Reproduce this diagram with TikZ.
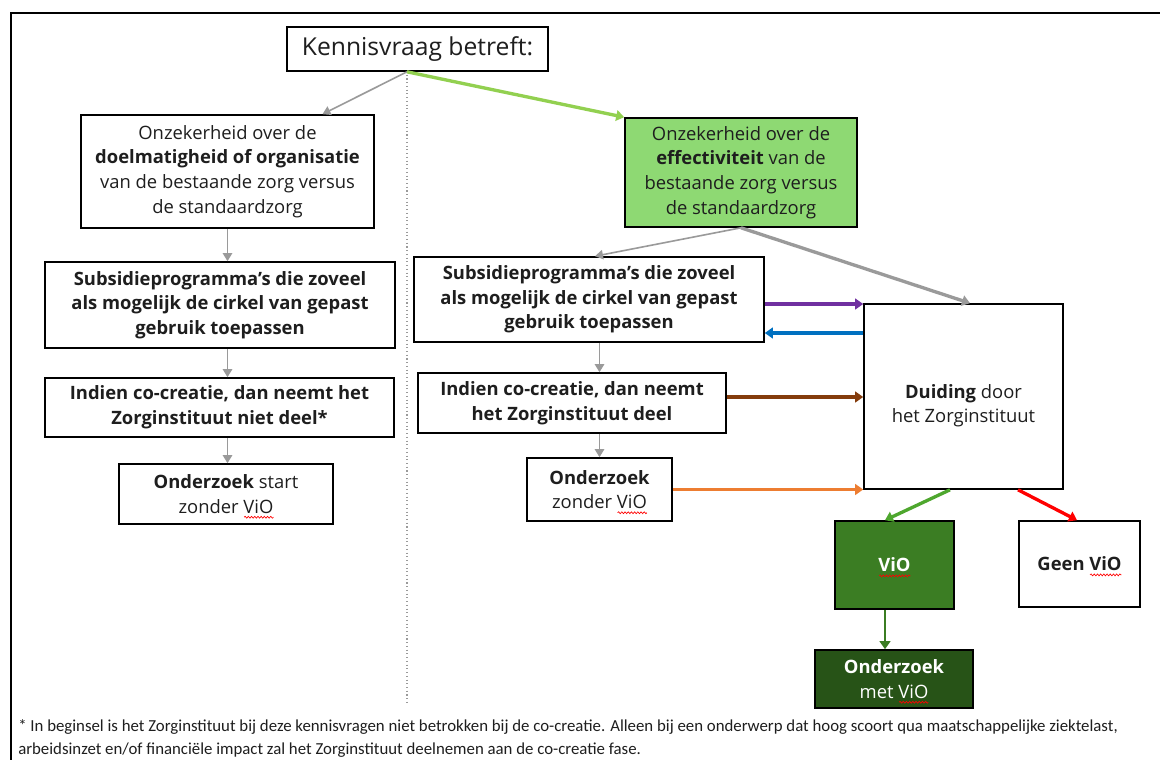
\documentclass[tikz,border=0pt]{standalone}
\usepackage{fontspec}
\setmainfont{Open Sans}
\newfontfamily\notefont{Carlito}
\usetikzlibrary{arrows.meta,calc,decorations.pathmorphing}
\newsavebox\wavebox
\newcommand\redwave[1]{\sbox\wavebox{#1}\rlap{\usebox\wavebox}\tikz[baseline=0pt,x=1pt,y=1pt]{\useasboundingbox (0pt,0pt) rectangle (\the\wd\wavebox,0pt);
  \draw[red, line width=0.5pt, decorate, decoration={snake,amplitude=0.7pt,segment length=2.4pt}] (0.5pt,-3pt) -- (\the\wd\wavebox,-3pt);}}
\definecolor{txt}{HTML}{1E1E1E}
\definecolor{lgreen}{HTML}{8ED973}
\definecolor{mgreen}{HTML}{3B7D23}
\definecolor{dgreen}{HTML}{275317}
\definecolor{agray}{HTML}{9A9A9A}
\definecolor{agreen}{HTML}{92D050}
\definecolor{apurple}{HTML}{7030A0}
\definecolor{ablue}{HTML}{0070C0}
\definecolor{abrown}{HTML}{843C0C}
\definecolor{aorange}{HTML}{ED7D31}
\definecolor{agreen2}{HTML}{4EA72E}
\tikzset{
  box/.style={draw=black, line width=1.2pt, inner sep=0pt, align=center, text=txt,
    font=\fontsize{13.8}{18.5}\selectfont},
  bbox/.style={box, font=\bfseries\fontsize{13.8}{18.5}\selectfont},
  thin arr/.style={draw=agray, line width=1.2pt, -{Triangle[width=7pt,length=6pt]}},
  thick arr/.style={line width=2.5pt, -{Triangle[width=8pt,length=6pt]}},
}
\begin{document}
\begin{tikzpicture}[x=0.75pt,y=-0.75pt]
\useasboundingbox (0,0) rectangle (1160,760);
\clip (0,0) rectangle (1160,760);
\fill[white] (0,0) rectangle (1160,760);
\draw[line width=2.2pt] (11,780) -- (11,13) -- (1180,13);

% dotted separator
\coordinate (dtop) at (407,71);
\coordinate (dbot) at (407,705);
\draw[agray, line width=0.8pt, dotted] (dtop) -- (dbot);

% nodes
\node[box, minimum width=195.75pt, minimum height=33pt, font=\fontsize{18.5}{20}\selectfont] (kv) at (417.5,49) {Kennisvraag betreft:};

\node[box, minimum width=219.75pt, minimum height=84.75pt] (l1) at (227.5,171.5)
  {Onzekerheid over de\\ \textbf{doelmatigheid of organisatie}\\ van de bestaande zorg versus\\ de standaardzorg};
\node[box, fill=lgreen, minimum width=174pt, minimum height=81.75pt] (g1) at (741,172.5)
  {Onzekerheid over de\\ \textbf{effectiviteit} van de\\ bestaande zorg versus\\ de standaardzorg};

\node[bbox, minimum width=262.5pt, minimum height=64.5pt] (l2) at (220,305)
  {Subsidieprogramma’s die zoveel\\ als mogelijk de cirkel van gepast\\ gebruik toepassen};
\node[bbox, minimum width=261.75pt, minimum height=44.25pt] (l3) at (219.5,407.5)
  {Indien co-creatie, dan neemt het\\ Zorginstituut niet deel*};
\node[box, minimum width=160.5pt, minimum height=45pt] (l4) at (226,494)
  {\textbf{Onderzoek} start\\ zonder \redwave{ViO}};

\node[bbox, minimum width=262.5pt, minimum height=63.75pt] (r2) at (589,299.5)
  {Subsidieprogramma’s die zoveel\\ als mogelijk de cirkel van gepast\\ gebruik toepassen};
\node[bbox, minimum width=231pt, minimum height=45pt] (r3) at (572,403)
  {Indien co-creatie, dan neemt\\ het Zorginstituut deel};
\node[box, minimum width=108.75pt, minimum height=47.25pt] (r4) at (599.5,489.5)
  {\textbf{Onderzoek}\\ zonder \redwave{ViO}};

\node[box, minimum width=149.25pt, minimum height=138.75pt] (du) at (963.5,396.5)
  {\raisebox{-7pt}[\height][\depth]{\parbox{140pt}{\centering\textbf{Duiding} door\\ het Zorginstituut}}};

\node[bbox, fill=mgreen, text=white, minimum width=89.25pt, minimum height=66pt] (vio) at (894.5,565)
  {\redwave{ViO}};
\node[bbox, minimum width=90.75pt, minimum height=64.5pt] (gv) at (1079.5,564)
  {Geen \redwave{ViO}};
\node[box, fill=dgreen, text=white, minimum width=118.5pt, minimum height=43.5pt] (om) at (894,679)
  {\textbf{Onderzoek}\\ met \redwave{ViO}};

% footnote
\node[anchor=north west, inner sep=0pt, align=left, text=txt, font=\notefont\fontsize{12.6}{17.5}\selectfont] (fn) at (18,719)
  {* In beginsel is het Zorginstituut bij deze kennisvragen niet betrokken bij de co-creatie. Alleen bij een onderwerp dat hoog scoort qua maatschappelijke ziektelast,\\
   arbeidsinzet en/of financiële impact zal het Zorginstituut deelnemen aan de co-creatie fase.};

% connectors
\draw[thin arr] ($(kv.south)+(-10.5,0)$) -- ($(l1.north)+(95,0)$);
\draw[thick arr, agreen] ($(kv.south)+(-10.5,0)$) -- (g1.north west);

\draw[thin arr] (l1.south) -- (l1.south |- l2.north);
\draw[thin arr] (l2.south -| l1.south) -- (l3.north -| l1.south);
\draw[thin arr] (l3.south -| l1.south) -- (l4.north -| l1.south);

\draw[thin arr] (g1.south) -- ($(r2.north)+(6,0)$);
\draw[thick arr, agray] (g1.south) -- ($(du.north)+(6.5,0)$);

\coordinate (pp) at ($(r2.east)+(0,4.5)$);
\coordinate (pb) at ($(r2.east)+(0,33.5)$);
\coordinate (pr) at ($(r3.east)+(0,-6)$);
\draw[thick arr, apurple] (pp) -- (pp -| du.west);
\draw[thick arr, ablue] (pb -| du.west) -- (pb);
\draw[thick arr, abrown] (pr) -- (pr -| du.west);
\draw[thick arr, aorange] (r4.east) -- (r4.east -| du.west);

\draw[thin arr] (r2.south -| r4.north) -- (r3.north -| r4.north);
\draw[thin arr] (r3.south -| r4.north) -- (r4.north);

\draw[thick arr, agreen2] ($(du.south)+(-13.5,0)$) -- ($(vio.north)+(-9.5,0)$);
\draw[thick arr, red] ($(du.south)+(54.5,0)$) -- ($(gv.north)+(-2.5,0)$);
\coordinate (vs) at ($(vio.south)+(-9.5,0)$);
\draw[thick arr, mgreen, line width=2pt] (vs) -- (vs |- om.north);
\end{tikzpicture}
\end{document}
